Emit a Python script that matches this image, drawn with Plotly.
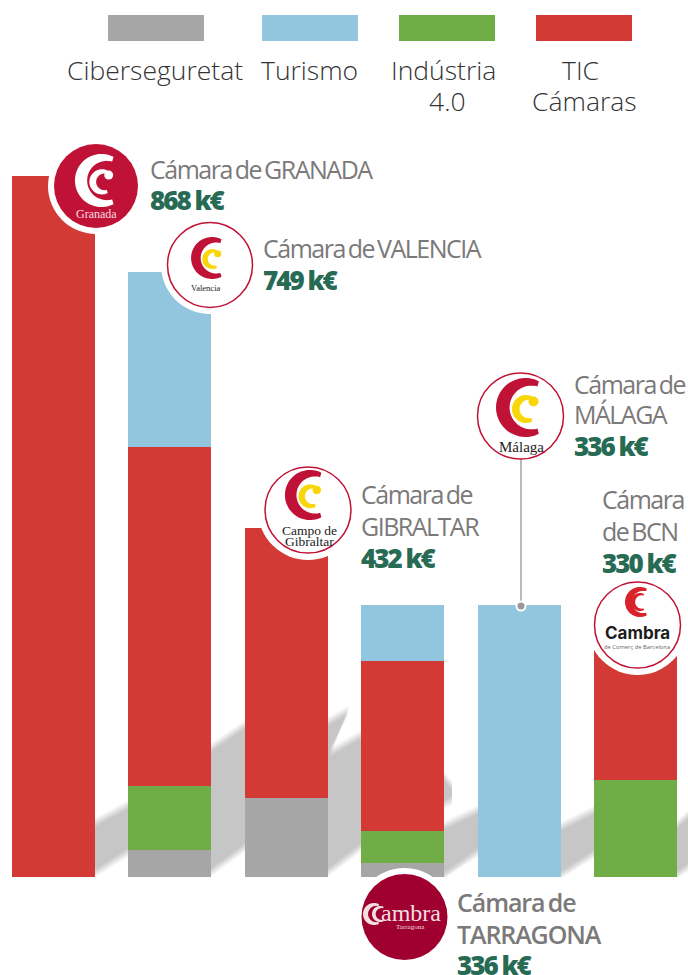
import numpy as np
import plotly.graph_objects as go

W, H = 688, 975

# ---------- data ----------
chambers = ["Granada", "Valencia", "Campo de Gibraltar", "Tarragona", "Málaga", "Barcelona"]
ciberseguretat = [0, 33, 97, 17, 0, 0]
industria = [0, 79, 0, 39, 0, 120]
tic = [868, 420, 335, 211, 0, 210]
turismo = [0, 217, 0, 69, 336, 0]

series_names = ["Ciberseguretat", "Indústria 4.0", "TIC Cámaras", "Turismo"]
legend_names = [["Ciberseguretat"], ["Turismo"], ["Indústria", "4.0"], ["TIC", "Cámaras"]]

GRAY, BLUE, GREEN, RED = "#a6a6a6", "#92c5de", "#70ad47", "#d43a35"
CRIMSON, WINE, YELLOW = "#c01236", "#a00030", "#f9d607"
TXT, VAL = "#7b7979", "#276b55"


# ---------- pixel helpers for decoration (page coordinates) ----------
def px(x):
    return x / W


def py(y):
    return 1 - y / H


def poly(points):
    return "M" + " L".join(f"{px(x):.5f},{py(y):.5f}" for x, y in points) + " Z"


shapes, notes = [], []


def pshape(points, color, layer="above"):
    shapes.append(dict(type="path", xref="paper", yref="paper", path=poly(points),
                       fillcolor=color, line=dict(width=0), layer=layer))


def circle(cx, cy, r, fill, line=None, lw=0, layer="above"):
    shapes.append(dict(type="circle", xref="paper", yref="paper",
                       x0=px(cx - r), x1=px(cx + r), y0=py(cy + r), y1=py(cy - r),
                       fillcolor=fill, line=dict(color=line or fill, width=lw), layer=layer))


def text(x, y, s, size, color, anchor="center", family="Liberation Serif", weight=400):
    notes.append(dict(xref="paper", yref="paper", x=px(x), y=py(y), text=s, showarrow=False,
                      xanchor=anchor, yanchor="middle", borderpad=0, borderwidth=0,
                      font=dict(size=size, color=color, family=family, weight=weight)))


def crescent(cx, cy, R, color, ratio=0.74):
    """C shape: outer circle minus an inner circle shifted to the right."""
    r = R * ratio
    off = R * 0.2
    a0 = np.radians(63)
    outer = [(cx + R * np.cos(a), cy + R * np.sin(a)) for a in np.linspace(a0, 2 * np.pi - a0, 50)]
    ex, ey = outer[-1]
    b0 = np.arctan2(ey - cy, ex - (cx + off)) % (2 * np.pi)
    b1 = 2 * np.pi - b0
    inner = [(cx + off + r * np.cos(a), cy + r * np.sin(a)) for a in np.linspace(b0, b1, 50)]
    pshape(outer + inner, color)


def chamber_c(cx, cy, s, outer_col, inner_col):
    crescent(cx, cy, 29.5 * s, outer_col)
    ix, iy = cx + 0.5 * s, cy + 1.5 * s
    crescent(ix, iy, 14 * s, inner_col, ratio=0.66)
    circle(ix + 7.5 * s, iy - 7.5 * s, 5 * s, inner_col)


# ---------- shadows behind the bars ----------
bands = [
    ([(95, 823), (128, 805), (205, 763)], [(205, 800), (128, 852), (95, 873)]),
    ([(211, 748), (245, 725), (290, 695), (328, 722), (349, 710)], [(332, 748), (300, 795), (245, 847), (211, 872)]),
    ([(328, 754), (361, 735), (430, 760), (452, 786)], [(452, 800), (361, 847), (328, 872)]),
    ([(444, 826), (478, 810), (500, 800)], [(500, 838), (478, 852), (444, 876)]),
    ([(561, 827), (595, 810), (620, 800)], [(620, 838), (595, 853), (561, 875)]),
    ([(677, 825), (688, 815)], [(688, 867), (677, 875)]),
]
for top, low in bands:
    for d in (5, 4, 3, 2, 1, 0, -1, -2, -3, -4):
        pts = [(x, y - d) for x, y in top] + [(x, min(y + d, 878)) for x, y in low]
        pshape(pts, "rgba(0,0,0,0.022)", layer="below")

# ---------- Málaga leader ----------
shapes.append(dict(type="line", xref="paper", yref="paper", x0=px(521), x1=px(521), y0=py(459), y1=py(603),
                   line=dict(color="#b9b9b9", width=2), layer="above"))
circle(521, 606, 5.5, "#ffffff")
circle(521, 606, 3.5, "#999999")

# ---------- logos ----------
circle(96, 186, 48, "#ffffff")
circle(96, 186, 42, CRIMSON)
chamber_c(101.5, 180.5, 0.9, "#ffffff", "#ffffff")
text(96, 214, "Granada", 12, "#f6dfe3")

circle(210, 265, 49, "#ffffff")
circle(210, 265, 42.5, "#ffffff", CRIMSON, 1.5)
chamber_c(212, 258, 0.71, CRIMSON, YELLOW)
text(206, 288, "Valencia", 8.5, "#222222")

circle(308, 510, 50, "#ffffff")
circle(308, 510, 43, "#ffffff", CRIMSON, 1.5)
chamber_c(310, 495, 0.85, CRIMSON, YELLOW)
text(309, 530, "Campo de", 13.5, "#222222")
text(309, 541, "Gibraltar", 13.5, "#222222")

circle(520.5, 416, 43, "#ffffff", CRIMSON, 1.5)
chamber_c(525.5, 407.5, 1, CRIMSON, YELLOW)
text(521, 447, "Málaga", 15, "#222222")

circle(637.5, 625, 50, "#ffffff")
circle(637.5, 625, 43, "#ffffff", CRIMSON, 1.5)
crescent(640, 602, 15, "#d8232a")
crescent(640, 602, 9, "#d8232a")
text(637, 633, "Cambra", 17, "#1c1c1c", family="Inter", weight=700)
text(637, 647, "de Comerç de Barcelona", 5.8, "#666666", family="Open Sans")

circle(404.5, 917, 49, "#ffffff")
circle(404.5, 917, 43, WINE)
crescent(374, 914, 11, "#f3dfe2")
crescent(380, 914, 8, "#f3dfe2")
text(411, 913, "ambra", 24, "#f3dfe2")
text(411, 927, "Tarragona", 7, "#f3dfe2")

# ---------- chamber labels ----------
labels = [
    (150, [(169, "Cámara de GRANADA")], (200, "868 k€"), 400),
    (263, [(248, "Cámara de VALENCIA")], (280, "749 k€"), 400),
    (361, [(494, "Cámara de"), (526, "GIBRALTAR")], (558, "432 k€"), 400),
    (574, [(384, "Cámara de"), (414, "MÁLAGA")], (446, "336 k€"), 400),
    (602, [(499, "Cámara"), (531, "de BCN")], (563, "330 k€"), 400),
    (457, [(902, "Cámara de"), (934, "TARRAGONA")], (965, "336 k€"), 600),
]
for x, lines, (vy, val), wt in labels:
    for y, s in lines:
        text(x, y, s, 25, TXT, anchor="left", family="Open Sans", weight=wt)
    text(x, vy, val, 26, VAL, anchor="left", family="Open Sans", weight=800)

# ---------- legend ----------
swatches = [(108, GRAY), (262, BLUE), (399, GREEN), (536, RED)]
legend_x = [[155], [309], [443, 447], [580, 584]]
for (x0, col), names, xs in zip(swatches, legend_names, legend_x):
    shapes.append(dict(type="rect", xref="paper", yref="paper", x0=px(x0), x1=px(x0 + 96),
                       y0=py(41), y1=py(15), fillcolor=col, line=dict(width=0), layer="above"))
    for i, (s, x) in enumerate(zip(names, xs)):
        text(x, 70 + 31 * i, s, 26.5, "#333333", family="Open Sans", weight=300)

# ---------- bars ----------
fig = go.Figure()
for name, vals, col in zip(series_names, [ciberseguretat, industria, tic, turismo], [GRAY, GREEN, RED, BLUE]):
    fig.add_bar(x=chambers, y=vals, name=name, marker=dict(color=col, line=dict(width=0)), width=0.713)

scale = 0.807
baseline = 876.5
fig.update_layout(
    barmode="stack",
    width=W, height=H,
    margin=dict(l=0, r=0, t=0, b=0),
    paper_bgcolor="#ffffff", plot_bgcolor="rgba(0,0,0,0)",
    showlegend=False,
    shapes=shapes, annotations=notes,
    xaxis=dict(type="category", range=[-53.5 / 116.4, (W - 53.5) / 116.4], visible=False, fixedrange=True),
    yaxis=dict(range=[-(H - baseline) / scale, baseline / scale], visible=False, fixedrange=True),
)

post = """
document.body.style.margin='0';
document.documentElement.style.overflow='hidden';
document.querySelectorAll('.annotation-text').forEach(function(t){
  var s=t.textContent, sp=null, ws='0';
  if(/k€$/.test(s)){sp='-2px';}
  else if(t.style.fontWeight=='600'){sp='-1.1px';ws='-2px';}
  else if(/^(Cámara|de BCN|GIBRALTAR|MÁLAGA|TARRAGONA)/.test(s) && !/^Cámaras/.test(s)){sp='-1.5px';ws='-2px';}
  if(sp){
    var b=t.getBBox();
    t.setAttribute('x', b.x);
    t.style.textAnchor='start';
    t.style.letterSpacing=sp;
    t.style.wordSpacing=ws;
  }
});
"""
fig.write_html("out.html", post_script=post, config={"displayModeBar": False, "responsive": False})
